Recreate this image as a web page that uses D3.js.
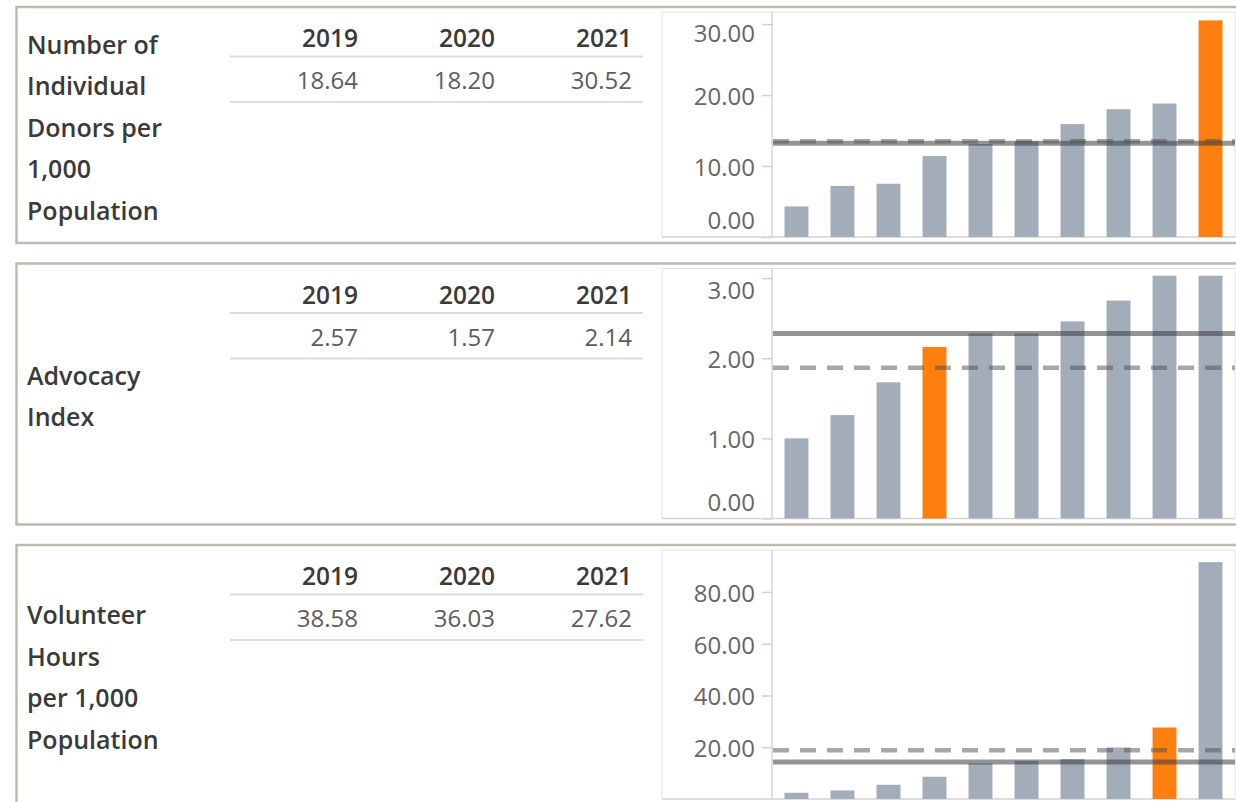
<!DOCTYPE html>
<html><head><meta charset="utf-8">
<script src="https://cdn.jsdelivr.net/npm/d3@7"></script>
<style>
html,body{margin:0;padding:0;background:#fff;}
svg{display:block;font-family:"Open Sans",sans-serif;}
</style></head>
<body><svg id="c" width="1236" height="802"></svg>
<script>
// ---- data ----
const years = ["2019", "2020", "2021"];
const titles = [
  ["Number of", "Individual", "Donors per", "1,000", "Population"],
  ["Advocacy", "Index"],
  ["Volunteer", "Hours", "per 1,000", "Population"]
];
const donorsTable = [18.64, 18.20, 30.52];
const advocacyTable = [2.57, 1.57, 2.14];
const volunteerTable = [38.58, 36.03, 27.62];

const ranks = [1, 2, 3, 4, 5, 6, 7, 8, 9, 10];
const donorsBars = [4.3, 7.2, 7.5, 11.4, 13.1, 13.5, 15.9, 18.0, 18.8, 30.52];
const advocacyBars = [1.00, 1.29, 1.70, 2.14, 2.31, 2.31, 2.46, 2.72, 3.03, 3.03];
const volunteerBars = [2.4, 3.3, 5.5, 8.6, 13.8, 14.7, 15.4, 19.9, 27.62, 91.5];
const highlightRank = [10, 4, 9];

const medianLine = [13.2, 2.31, 14.3];
const dashedLine = [13.5, 1.88, 18.8];

const yMax = [31.7, 3.12, 96.2];
const yTicks = [[0, 10, 20, 30], [0, 1, 2, 3], [20, 40, 60, 80]];

const tables = [donorsTable, advocacyTable, volunteerTable];
const bars = [donorsBars, advocacyBars, volunteerBars];

// ---- layout ----
const panelTop = [7, 263.5, 545];
const panelBottom = [243, 524.5, 805];
const svg = d3.select("#c");

const x = d3.scaleBand().domain(ranks).range([773, 1234]).paddingInner(0.48).paddingOuter(0.25);
const colX = d3.scalePoint().domain(years).range([358, 632]);

panelTop.forEach((top, i) => {
  const bottom = panelBottom[i];
  const g = svg.append("g");
  const paneTop = top + 5, base = bottom - 6;

  // panel border
  g.append("rect").attr("x", 16.5).attr("y", top).attr("width", 1240).attr("height", bottom - top)
    .attr("fill", "none").attr("stroke", "#bdbaae").attr("stroke-width", 2.5);

  // title
  const lh = 41.5;
  const mid = (top + bottom) / 2 + 3;
  const n = titles[i].length;
  g.append("g").selectAll("text").data(titles[i]).join("text")
    .attr("x", 27).attr("y", (d, k) => mid + (k - (n - 1) / 2) * lh + 8.5)
    .attr("font-size", 25).attr("font-weight", 600).attr("fill", "#3a3a3a").text(d => d);

  // table
  g.selectAll(".hdr").data(years).join("text").attr("class", "hdr")
    .attr("x", d => colX(d)).attr("y", top + 40).attr("text-anchor", "end")
    .attr("font-size", 24.5).attr("font-weight", 600).attr("fill", "#3a3a3a").text(d => d);
  g.selectAll(".val").data(tables[i]).join("text").attr("class", "val")
    .attr("x", (d, k) => colX(years[k])).attr("y", top + 82).attr("text-anchor", "end")
    .attr("font-size", 24).attr("fill", "#5c5c5c").text(d => d.toFixed(2));
  [49.5, 95].forEach(dy => g.append("line").attr("x1", 230).attr("x2", 643)
    .attr("y1", top + dy).attr("y2", top + dy).attr("stroke", "#dcdcdc").attr("stroke-width", 2));

  // chart
  const y = d3.scaleLinear().domain([0, yMax[i]]).range([base, paneTop]);
  g.append("rect").attr("x", 662).attr("y", paneTop).attr("width", 1235 - 662).attr("height", base - paneTop)
    .attr("fill", "none").attr("stroke", "#e4e4e4").attr("stroke-width", 1);

  const axis = d3.axisLeft(y).tickValues(yTicks[i]).tickSize(10).tickPadding(6).tickFormat(d3.format(".2f"));
  const ag = g.append("g").attr("transform", "translate(772,0)").call(axis);
  ag.select(".domain").attr("stroke", "#d6d6d6").attr("stroke-width", 1.5)
    .attr("d", `M0,${paneTop}V${base}`);
  ag.selectAll(".tick line").attr("stroke", "#d0d0d0").attr("stroke-width", 1.5).attr("x2", -10);
  ag.selectAll(".tick text").attr("font-size", 24).attr("fill", "#666").attr("font-family", "Open Sans")
    .attr("x", -17)
    .attr("dy", null)
    .attr("dominant-baseline", "central")
    .attr("y", d => {
      const c = y(d);
      return Math.min(Math.max(c, paneTop + 20), base - 18) - c;
    });
  g.append("line").attr("x1", 662).attr("x2", 1235).attr("y1", base).attr("y2", base)
    .attr("stroke", "#d6d6d6").attr("stroke-width", 1.5);

  g.append("g").selectAll("rect").data(bars[i]).join("rect")
    .attr("x", (d, k) => x(ranks[k])).attr("width", x.bandwidth())
    .attr("y", d => y(d)).attr("height", d => base - y(d))
    .attr("fill", (d, k) => ranks[k] === highlightRank[i] ? "#fd7f0f" : "#a3acb9");

  // reference lines
  g.append("line").attr("x1", 773).attr("x2", 1235)
    .attr("y1", y(medianLine[i])).attr("y2", y(medianLine[i]))
    .attr("stroke", "#3c3c3c").attr("stroke-opacity", 0.55).attr("stroke-width", 5);
  g.append("line").attr("x1", 773).attr("x2", 1235)
    .attr("y1", y(dashedLine[i])).attr("y2", y(dashedLine[i]))
    .attr("stroke", "#505050").attr("stroke-opacity", 0.5).attr("stroke-width", 4.5)
    .attr("stroke-dasharray", "16,11");
});
</script></body></html>
